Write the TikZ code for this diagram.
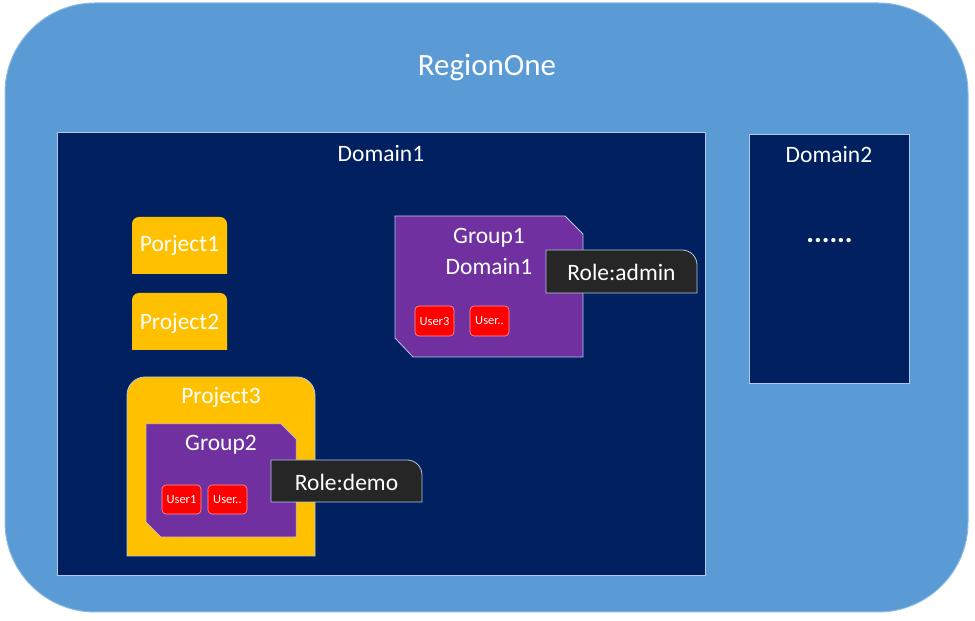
\documentclass[tikz,border=0pt]{standalone}
\usepackage{fontspec}
\setmainfont{Carlito}

\definecolor{regionblue}{HTML}{5B9BD5}
\definecolor{domainblue}{HTML}{002060}
\definecolor{projyellow}{HTML}{FFC000}
\definecolor{groupviolet}{HTML}{7030A0}
\definecolor{rolegray}{HTML}{262626}
\definecolor{userred}{HTML}{FF0000}
\definecolor{edgeblue}{HTML}{B4C7E7}

\tikzset{
	boxedge/.style={draw=edgeblue,line width=0.8pt},
	bigtext/.style={text=white,inner sep=0pt,font=\fontsize{23.5}{28}\selectfont},
	usertext/.style={text=white,inner sep=0pt,font=\fontsize{12.5}{15}\selectfont},
}

\begin{document}
\begin{tikzpicture}[x=1pt,y=1pt]
	\useasboundingbox (0,0) rectangle (975,621);

	% region
	\draw[fill=regionblue,draw=regionblue!70!white,line width=1pt,rounded corners=90pt] (5,9) rectangle (968,618);
	\node[text=white,inner sep=0pt,font=\fontsize{31}{36}\selectfont] (regionone) at(487,553) {RegionOne};

	% domain boxes
	\draw[boxedge,fill=domainblue] (57,46) rectangle (705,489);
	\node[bigtext] (domainone) at(381,467) {Domain1};

	\draw[boxedge,fill=domainblue] (749,238) rectangle (909,487);
	\node[bigtext] (domaintwo) at(829,466) {Domain2};
	\node[text=white,inner sep=0pt,font=\fontsize{29}{32}\selectfont\bfseries] (dots) at(829.5,380) {......};

	% projects (top corners rounded)
	\fill[projyellow] (132,347) -- (132,397) arc[start angle=180,end angle=90,radius=7pt] -- (220,404) arc[start angle=90,end angle=0,radius=7pt] -- (227,347) -- cycle;
	\node[bigtext] (porjectone) at(179.5,376) {Porject1};

	\fill[projyellow] (132,271) -- (132,321) arc[start angle=180,end angle=90,radius=7pt] -- (220,328) arc[start angle=90,end angle=0,radius=7pt] -- (227,271) -- cycle;
	\node[bigtext] (projecttwo) at(179.5,298) {Project2};

	\draw[boxedge,fill=projyellow] (127,65) -- (127,226) arc[start angle=180,end angle=90,radius=18pt] -- (297,244) arc[start angle=90,end angle=0,radius=18pt] -- (315,65) -- cycle;
	\node[bigtext] (projectthree) at(221,224) {Project3};

	% groups (chamfered corners)
	\draw[boxedge,fill=groupviolet] (395,283) -- (395,405) -- (565,405) -- (583,387) -- (583,264) -- (413,264) -- cycle;
	\node[bigtext] (groupone) at(489,383) {Group1};
	\node[bigtext] (groupdomain) at(489,354) {Domain1};

	\draw[edgeblue,line width=0.5pt,fill=groupviolet] (146,99) -- (146,197) -- (281,197) -- (296,182) -- (296,84) -- (161,84) -- cycle;
	\node[bigtext] (grouptwo) at(221,176) {Group2};

	% users
	\draw[draw=userred!40!white,line width=0.6pt,fill=userred,rounded corners=4pt] (415,285) rectangle (454,315);
	\node[usertext] (userthree) at(434.5,300) {User3};
	\draw[draw=userred!40!white,line width=0.6pt,fill=userred,rounded corners=4pt] (470,285) rectangle (509,315);
	\node[usertext] (usermoreone) at(489.5,300) {User..};

	\draw[draw=userred!40!white,line width=0.6pt,fill=userred,rounded corners=4pt] (162,107) rectangle (201,136);
	\node[usertext] (userone) at(181.5,121.5) {User1};
	\draw[draw=userred!40!white,line width=0.6pt,fill=userred,rounded corners=4pt] (208,107) rectangle (247,136);
	\node[usertext] (usermoretwo) at(227.5,121.5) {User..};

	% roles (top right corner rounded)
	\draw[boxedge,fill=rolegray] (546,328) -- (546,371) -- (682,371) arc[start angle=90,end angle=0,radius=15pt] -- (697,328) -- cycle;
	\node[bigtext] (roleadmin) at(621.5,349) {Role:admin};

	\draw[boxedge,fill=rolegray] (271,119) -- (271,161) -- (407,161) arc[start angle=90,end angle=0,radius=15pt] -- (422,119) -- cycle;
	\node[bigtext] (roledemo) at(346.5,139) {Role:demo};
\end{tikzpicture}
\end{document}
